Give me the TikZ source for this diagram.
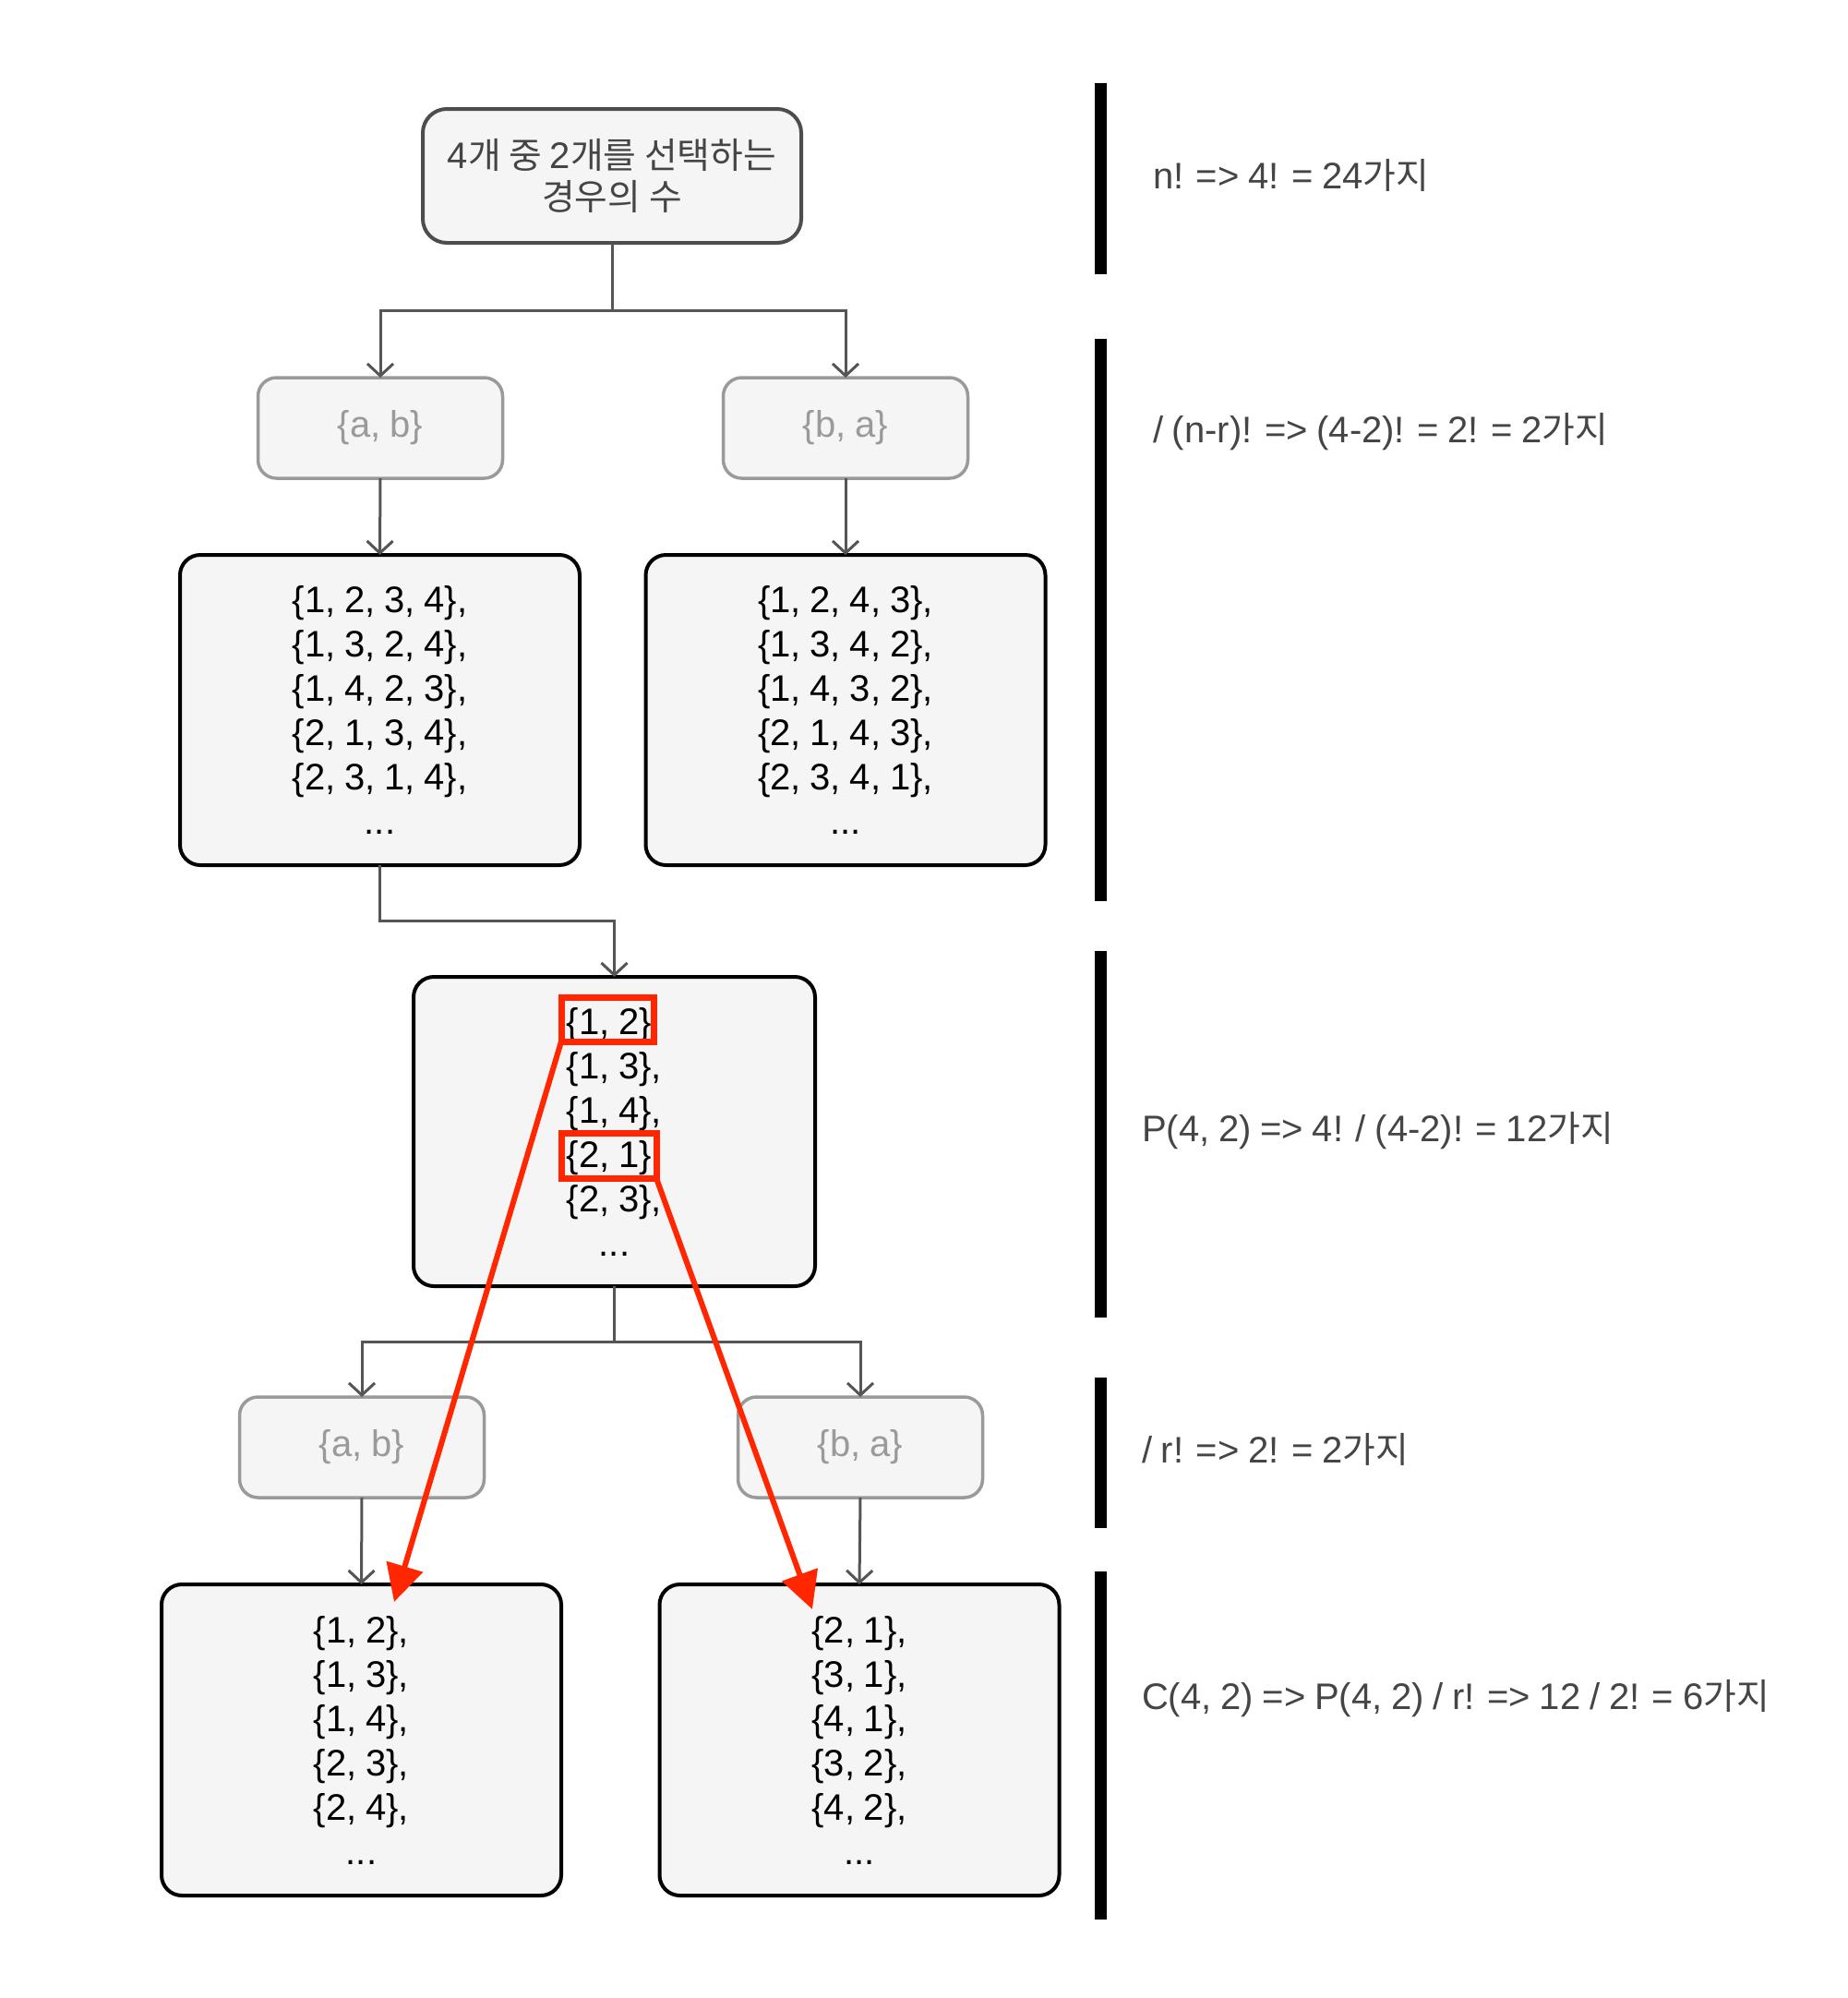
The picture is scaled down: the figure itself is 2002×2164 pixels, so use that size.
\documentclass[tikz,border=0pt]{standalone}
\usepackage{fontspec}
\setmainfont{Liberation Sans}[WordSpace=0.88]
\newfontfamily\kr{Noto Sans CJK KR}[Scale=0.97]
\usetikzlibrary{arrows.meta}
\definecolor{boxfill}{HTML}{F5F5F5}
\definecolor{titleedge}{HTML}{4D4D4D}
\definecolor{titletext}{HTML}{454545}
\definecolor{lightedge}{HTML}{9A9A9A}
\definecolor{linkgray}{HTML}{555555}
\definecolor{notegray}{HTML}{454545}
\definecolor{hlred}{HTML}{FF2600}
\begin{document}
\begin{tikzpicture}[x=1pt, y=-1pt,
  every node/.style={inner sep=0pt, outer sep=0pt},
  basebox/.style={draw, fill=boxfill, align=center, font=\fontsize{40}{48}\selectfont},
  titlebox/.style={basebox, draw=titleedge, line width=4pt, text=titletext,
    minimum width=410pt, minimum height=145pt, rounded corners=26pt,
    font=\fontsize{40}{45}\selectfont},
  pairbox/.style={basebox, draw=lightedge, line width=3.5pt, text=lightedge,
    minimum width=265pt, minimum height=109pt, rounded corners=20pt},
  listbox/.style={basebox, draw=black, line width=4pt, text=black,
    minimum width=433pt, minimum height=336pt, rounded corners=22pt},
  link/.style={draw=linkgray, line width=3pt, -{Straight Barb[length=13pt, width=28pt]}},
  hlbox/.style={draw=hlred, line width=7pt},
  hlarrow/.style={draw=hlred, line width=6pt, -{Triangle[length=40pt, width=40pt]}},
  note/.style={anchor=west, text=notegray, font=\fontsize{40}{48}\selectfont},
]
\useasboundingbox (0,0) rectangle (2002,2164);
\fill[white] (0,0) rectangle (2002,2164);

% root
\node[titlebox] (root) at (663,190.5) {4{\kr 개 중 }2{\kr 개를 선택하는}\\{\kr 경우의 수}};

% first split: order of the remaining pair
\node[pairbox] (ab1) at (412,463.5) {\{a, b\}};
\node[pairbox] (ba1) at (916,463.5) {\{b, a\}};

\node[listbox] (perm1) at (411.5,769) {\{1, 2, 3, 4\},\\\{1, 3, 2, 4\},\\\{1, 4, 2, 3\},\\\{2, 1, 3, 4\},\\\{2, 3, 1, 4\},\\...};
\node[listbox] (perm2) at (916,769) {\{1, 2, 4, 3\},\\\{1, 3, 4, 2\},\\\{1, 4, 3, 2\},\\\{2, 1, 4, 3\},\\\{2, 3, 4, 1\},\\...};

% ordered pairs
\node[listbox, minimum width=435pt, minimum height=335pt] (pairs) at (665.5,1225.5) {\{1, 2\}\phantom{,}\\\{1, 3\},\\\{1, 4\},\\\{2, 1\},\\\{2, 3\},\\...};

% second split: order inside the chosen pair
\node[pairbox] (ab2) at (392,1567.5) {\{a, b\}};
\node[pairbox] (ba2) at (932,1567.5) {\{b, a\}};

\node[listbox, minimum height=337pt] (comb1) at (391.5,1884.5) {\{1, 2\},\\\{1, 3\},\\\{1, 4\},\\\{2, 3\},\\\{2, 4\},\\...};
\node[listbox, minimum height=337pt] (comb2) at (931,1884.5) {\{2, 1\},\\\{3, 1\},\\\{4, 1\},\\\{3, 2\},\\\{4, 2\},\\...};

% connectors
\draw[link] (root.south) -- ++(0,73) -| (ab1.north);
\draw[link] (root.south) -- ++(0,73) -| (ba1.north);
\draw[link] (ab1.south) -- (perm1.north);
\draw[link] (ba1.south) -- (perm2.north);
\draw[link] (perm1.south) -- ++(0,60) -| (pairs.north);
\draw[link] (pairs.south) -- ++(0,60) -| (ab2.north);
\draw[link] (pairs.south) -- ++(0,60) -| (ba2.north);
\draw[link] (ab2.south) -- (comb1.north);
\draw[link] (ba2.south) -- (comb2.north);

% highlighted pairs and where they end up
\node[hlbox, minimum width=100pt, minimum height=48pt] (hl12) at (658,1104) {};
\node[hlbox, minimum width=103pt, minimum height=49pt] (hl21) at (659.5,1251.5) {};
\coordinate (tipL) at (427,1735);
\coordinate (tipR) at (880,1743);
\draw[hlarrow] (hl12.south west) -- (tipL);
\draw[hlarrow] (hl21.south east) -- (tipR);

% step markers
\fill (1186,90) rectangle (1199,297);
\fill (1186,367) rectangle (1199,976);
\fill (1186,1030) rectangle (1199,1427);
\fill (1186,1492) rectangle (1199,1655);
\fill (1186,1702) rectangle (1199,2079);

% formulas
\node[note] (f1) at (1249,190) {n! => 4! = 24{\kr 가지}};
\node[note] (f2) at (1249,468) {/ (n-r)! => (4-2)! = 2! = 2{\kr 가지}};
\node[note] (f3) at (1237,1225) {P(4, 2) => 4! / (4-2)! = 12{\kr 가지}};
\node[note] (f4) at (1237,1570) {/ r! => 2! = 2{\kr 가지}};
\node[note] (f5) at (1237,1840) {C(4, 2) => P(4, 2) / r! => 12 / 2! = 6{\kr 가지}};
\end{tikzpicture}
\end{document}
